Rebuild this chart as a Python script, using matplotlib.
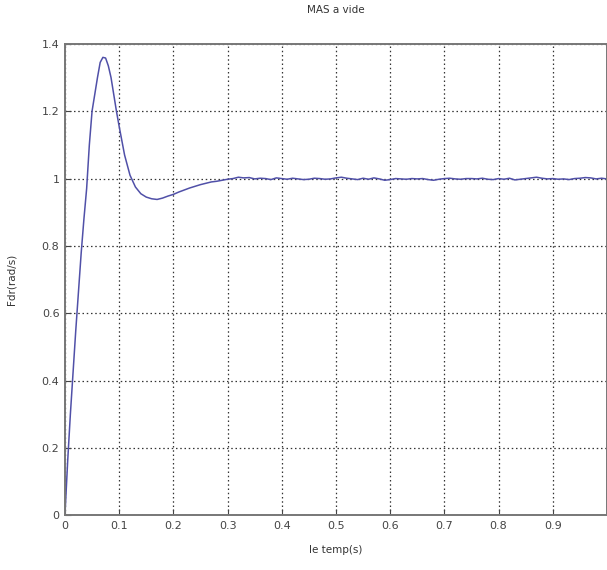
import matplotlib
matplotlib.use("Agg")
import matplotlib.pyplot as plt

# transitoire
t_start = [0.0, 0.005, 0.01, 0.02, 0.03, 0.035, 0.04, 0.045, 0.05, 0.055, 0.06,
           0.065, 0.07, 0.075, 0.08, 0.085, 0.09, 0.095, 0.1, 0.11, 0.12, 0.13,
           0.14, 0.15, 0.16, 0.17, 0.18, 0.19, 0.2, 0.21, 0.22, 0.23, 0.24,
           0.25, 0.26, 0.27, 0.28, 0.29, 0.3, 0.31]
w_start = [0.0, 0.16, 0.3, 0.55, 0.78, 0.88, 0.97, 1.1, 1.2, 1.25, 1.3,
           1.345, 1.36, 1.358, 1.335, 1.3, 1.25, 1.2, 1.155, 1.07, 1.01, 0.975,
           0.955, 0.945, 0.94, 0.938, 0.942, 0.948, 0.953, 0.96, 0.966, 0.972, 0.977,
           0.982, 0.986, 0.99, 0.992, 0.995, 0.998, 1.0]

# regime permanent (petites oscillations)
t_end = [0.32, 0.33, 0.34, 0.35, 0.36, 0.37, 0.38, 0.39, 0.4, 0.41, 0.42, 0.43,
         0.44, 0.45, 0.46, 0.47, 0.48, 0.49, 0.5, 0.51, 0.52, 0.53, 0.54, 0.55,
         0.56, 0.57, 0.58, 0.59, 0.6, 0.61, 0.62, 0.63, 0.64, 0.65, 0.66, 0.67,
         0.68, 0.69, 0.7, 0.71, 0.72, 0.73, 0.74, 0.75, 0.76, 0.77, 0.78, 0.79,
         0.8, 0.81, 0.82, 0.83, 0.84, 0.85, 0.86, 0.87, 0.88, 0.89, 0.9, 0.91,
         0.92, 0.93, 0.94, 0.95, 0.96, 0.97, 0.98, 0.99, 1.0]
w_end = [1.004, 1.002, 1.003, 0.999, 1.001, 1.0, 0.997, 1.002, 1.0, 0.998, 1.001, 0.999,
         0.997, 0.998, 1.001, 1.0, 0.998, 0.999, 1.002, 1.004, 1.001, 0.999, 0.997, 1.001,
         0.998, 1.002, 0.999, 0.995, 0.997, 1.0, 0.999, 0.998, 1.0, 0.999, 1.0, 0.997,
         0.995, 0.998, 1.0, 1.001, 0.999, 0.998, 1.0, 1.0, 0.999, 1.001, 0.998, 0.997,
         1.0, 0.998, 1.001, 0.996, 0.998, 1.0, 1.002, 1.004, 1.001, 0.999, 1.0, 0.998,
         0.999, 0.997, 1.0, 1.001, 1.003, 1.002, 0.999, 1.001, 0.999]

t = t_start + t_end
w = w_start + w_end

xticks = [0, 0.1, 0.2, 0.3, 0.4, 0.5, 0.6, 0.7, 0.8, 0.9, 1.0]
xlabels = ["0", "0.1", "0.2", "0.3", "0.4", "0.5", "0.6", "0.7", "0.8", "0.9", ""]
yticks = [0, 0.2, 0.4, 0.6, 0.8, 1.0, 1.2, 1.4]
ylabels = ["0", "0.2", "0.4", "0.6", "0.8", "1", "1.2", "1.4"]

fig = plt.figure(figsize=(6.07, 5.70), dpi=100)
ax = fig.add_axes([0.107, 0.096, 0.893, 0.827])
ax.plot(t, w, color="#5050a8", linewidth=1.1)
ax.set_xlim(0, 1.0)
ax.set_ylim(0, 1.4)
ax.set_xticks(xticks)
ax.set_xticklabels(xlabels)
ax.set_yticks(yticks)
ax.set_yticklabels(ylabels)
ax.grid(True, color="#333333", linestyle=(0, (1.2, 2.2)), linewidth=0.9)
ax.tick_params(direction="in", length=4, labelsize=8, colors="#444444", pad=4)
for s in ax.spines.values():
    s.set_color("#777777")
    s.set_linewidth(1.4)
ax.set_title("MAS a vide", fontsize=7.5, color="#333333", pad=22)
ax.set_xlabel("le temp(s)", fontsize=7.5, color="#333333", labelpad=10)
ax.set_ylabel("Fdr(rad/s)", fontsize=7.5, color="#333333", labelpad=18)
fig.savefig("out.png", dpi=100)
